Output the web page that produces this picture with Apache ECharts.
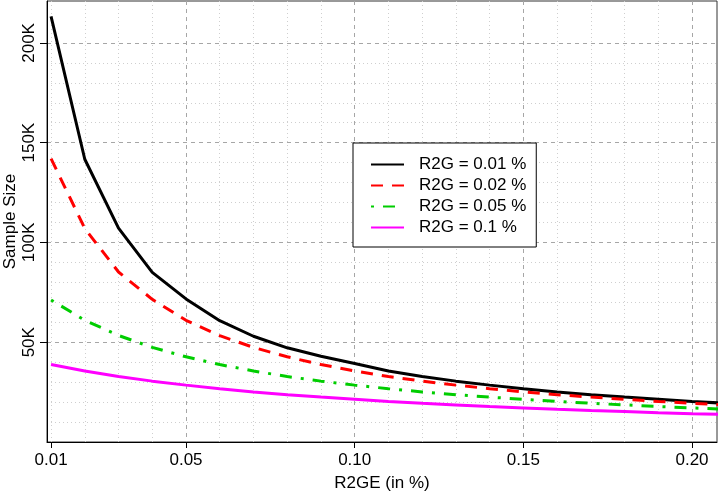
<!DOCTYPE html>
<html>
<head>
<meta charset="utf-8">
<script src="https://cdn.jsdelivr.net/npm/echarts@6/dist/echarts.min.js"></script>
<style>html,body{margin:0;padding:0;background:#fff;}#c{width:718px;height:492px;}</style>
</head>
<body>
<div id="c"></div>
<script>
// ---- data ----
const xValues = [0.01,0.02,0.03,0.04,0.05,0.06,0.07,0.08,0.09,0.10,0.11,0.12,0.13,0.14,0.15,0.16,0.17,0.18,0.19,0.20,0.21];
const r2g001 = [213300,141700,107200,85000,71700,60800,53000,47200,43000,39300,35600,32800,30500,28500,26700,25100,23700,22500,21400,20300,19400];
const r2g002 = [142000,107000,85200,71500,61000,53300,47400,42700,38800,35600,32800,30500,28500,26700,25100,23700,22500,21400,20300,19400,18600];
const r2g005 = [71200,61000,53400,47400,42700,38800,35600,32800,30500,28500,26700,25100,23700,22500,21400,20300,19400,18600,17800,17100,16400];
const r2g01  = [38800,35600,32800,30500,28500,26700,25100,23700,22500,21400,20300,19400,18600,17800,17100,16400,15800,15300,14700,14200,13800];
const seriesNames = ['R2G = 0.01 %','R2G = 0.02 %','R2G = 0.05 %','R2G = 0.1 %'];
const xTickLabels = [0.01,0.05,0.10,0.15,0.20];
const xMajorGrid = [0.05,0.10,0.15,0.20];
const xMinorGrid = [0.01,0.02,0.03,0.04,0.06,0.07,0.08,0.09,0.11,0.12,0.13,0.14,0.16,0.17,0.18,0.19];
const yTickLabels = [50000,100000,150000,200000];
const yMinorGrid = [10000,20000,30000,40000,60000,70000,80000,90000,110000,120000,130000,140000,160000,170000,180000,190000];
const xRange = [0.0088, 0.2074];
const yRange = [0, 221000];

const FONT = 'Liberation Sans, Arial, sans-serif';
const chart = echarts.init(document.getElementById('c'), null, {renderer:'canvas'});

function hiddenX(vals, style){
  return {type:'value', min:xRange[0], max:xRange[1], position:'bottom',
    axisLine:{show:false}, axisLabel:{show:false},
    axisTick:{show:false, customValues: vals},
    splitLine:{show:true, lineStyle: style}};
}
function hiddenY(vals, style){
  return {type:'value', min:yRange[0], max:yRange[1], position:'left',
    axisLine:{show:false}, axisLabel:{show:false},
    axisTick:{show:false, customValues: vals},
    splitLine:{show:true, lineStyle: style}};
}
const minorStyle = {color:'#cfcfcf', width:1, type:[1,3]};
const majorStyle = {color:'#a6a6a6', width:1, type:[4,4]};

const pairs = arr => xValues.map((x,i)=>[x, arr[i]]);
const colors = ['#000000','#ff0000','#00cd00','#ff00ff'];
const dashes = ['solid',[12,9],[3,9,12,9],'solid'];
const dataSets = [r2g001, r2g002, r2g005, r2g01];

chart.setOption({
  animation:false,
  backgroundColor:'#ffffff',
  textStyle:{fontFamily:FONT},
  grid:{left:47, right:1, top:1, bottom:50, containLabel:false, outerBoundsMode:'none',
        show:true, borderColor:'#333', borderWidth:1, backgroundColor:'transparent'},
  legend:{
    orient:'vertical', left:353, top:143,
    padding:[13,10,11,17],
    itemWidth:33, itemHeight:14, itemGap:4,
    backgroundColor:'#fff', borderColor:'#000', borderWidth:1,
    selectedMode:false,
    itemStyle:{opacity:0},
    textStyle:{fontSize:17, color:'#000', fontFamily:FONT, padding:[0,0,0,10]},
    data: seriesNames
  },
  xAxis:[
    {type:'value', min:xRange[0], max:xRange[1], position:'bottom',
     name:'R2GE (in %)', nameLocation:'middle', nameGap:33,
     nameTextStyle:{fontSize:17, color:'#000', fontFamily:FONT},
     axisLine:{show:true, onZero:false, lineStyle:{color:'#000', width:1}},
     axisTick:{show:true, length:6, customValues:xTickLabels, lineStyle:{color:'#000'}},
     axisLabel:{show:true, customValues:xTickLabels, fontSize:17, color:'#000', margin:10,
       formatter: v => v.toFixed(2)},
     splitLine:{show:false}},
    hiddenX(xMinorGrid, minorStyle),
    hiddenX(xMajorGrid, majorStyle)
  ],
  yAxis:[
    {type:'value', min:yRange[0], max:yRange[1], position:'left',
     name:'Sample Size', nameLocation:'middle', nameGap:28, nameRotate:90, nameMoveOverlap:false,
     nameTextStyle:{fontSize:17, color:'#000', fontFamily:FONT},
     axisLine:{show:true, onZero:false, lineStyle:{color:'#000', width:1}},
     axisTick:{show:true, length:7, customValues:yTickLabels, lineStyle:{color:'#000'}},
     axisLabel:{show:true, customValues:yTickLabels, rotate:90, fontSize:17, color:'#000', margin:9,
       formatter: v => (v/1000) + 'K'},
     splitLine:{show:false}},
    hiddenY(yMinorGrid, minorStyle),
    hiddenY(yTickLabels, majorStyle)
  ],
  series: dataSets.map((d,i)=>({
    name: seriesNames[i], type:'line', xAxisIndex:0, yAxisIndex:0,
    data: pairs(d), symbol:'none', showSymbol:false, clip:true, z:5,
    lineStyle:{color:colors[i], width:3, type:dashes[i]},
    itemStyle:{color:colors[i]}
  }))
});
</script>
</body>
</html>
